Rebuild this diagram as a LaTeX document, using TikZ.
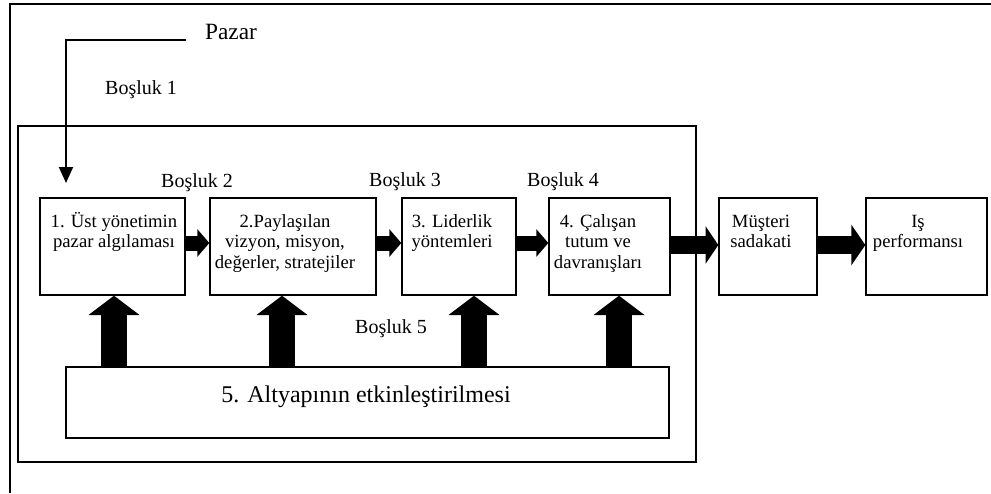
\documentclass[tikz,border=0pt]{standalone}
\usepackage{fontspec}
\setmainfont{Liberation Serif}
\usetikzlibrary{arrows.meta}
\newcommand{\celltext}[1]{\begin{tabular}[t]{@{}c@{}}#1\end{tabular}}
\begin{document}
\begin{tikzpicture}[x=0.75pt,y=-0.75pt,
  stage/.style={draw, line width=1pt, rectangle, inner sep=0pt, minimum height=72.75pt},
  boxtext/.style={inner sep=0pt, anchor=base, font=\fontsize{14}{15.5}\selectfont},
  gaplabel/.style={inner sep=0pt, anchor=base, font=\fontsize{15}{17}\selectfont},
  flow/.style={line width=11.25pt, -{Triangle[width=20.25pt,length=9pt]}},
  bigflow/.style={line width=13.5pt, -{Triangle[width=27.5pt,length=9.5pt]}},
  widehead/.style={line width=13pt, -{Triangle[width=30pt,length=10.5pt]}},
  lift/.style={line width=19pt, -{Triangle[width=37.5pt,length=14.5pt]}},
  feed/.style={line width=1.5pt, -{Triangle[width=10.5pt,length=12pt]}}
]
\useasboundingbox (0,0) rectangle (991,493);

% partial outer frame
\draw[line width=1.8pt] (10,493) -- (10,4) -- (991,4);

% organisation boundary
\node[draw, line width=1pt, inner sep=0pt, minimum width=508.5pt, minimum height=252pt] (org) at (357,294) {};

% stages
\node[stage, minimum width=108.75pt] (b1) at (112.5,246.5) {};
\node[stage, minimum width=124.5pt]  (b2) at (293,246.5) {};
\node[stage, minimum width=85.5pt]   (b3) at (459,246.5) {};
\node[stage, minimum width=90.75pt]  (b4) at (609.5,246.5) {};
\node[stage, minimum width=73.5pt]   (b5) at (768,246.5) {};
\node[stage, minimum width=90.75pt]  (b6) at (926.5,246.5) {};
\node[stage, minimum width=452.25pt, minimum height=53.25pt] (base) at (367.5,402.5) {};

% stage texts
\node[boxtext] (t1) at (114,227) {\celltext{1. Üst yönetimin\\pazar algılaması}};
\node[boxtext] (t2) at (285,227) {\celltext{2.Paylaşılan\\vizyon, misyon,\\değerler, stratejiler}};
\node[boxtext] (t3) at (452,227) {\celltext{3. Liderlik\\yöntemleri}};
\node[boxtext] (t4) at (598,227) {\celltext{4. Çalışan\\tutum ve\\davranışları}};
\node[boxtext] (t5) at (761,227) {\celltext{Müşteri\\sadakati}};
\node[boxtext] (t6) at (918,227) {\celltext{Iş\\performansı}};
\node[inner sep=0pt, anchor=base, font=\fontsize{18}{21}\selectfont] (t7) at (366,402) {5. Altyapının etkinleştirilmesi};

% labels
\node[inner sep=0pt, anchor=base, font=\fontsize{17.5}{20}\selectfont] (pazar) at (231,39.5) {Pazar};
\node[gaplabel] (g1) at (141,94) {Boşluk 1};
\node[gaplabel] (g2) at (197,187) {Boşluk 2};
\node[gaplabel] (g3) at (405,186) {Boşluk 3};
\node[gaplabel] (g4) at (563,186) {Boşluk 4};
\node[gaplabel] (g5) at (391,333) {Boşluk 5};

% market input
\coordinate (pzs) at (186,40);
\coordinate (pze) at (66,183);
\draw[feed] (pzs) -| (pze);

% horizontal flow
\draw[flow] (b1.east |- 0,243) -- (b2.west |- 0,243);
\draw[flow] (b2.east |- 0,243) -- (b3.west |- 0,243);
\draw[flow] (b3.east |- 0,243) -- (b4.west |- 0,243);
\draw[bigflow] (b4.east |- 0,245) -- (b5.west |- 0,245);
\draw[widehead] (b5.east |- 0,245) -- (b6.west |- 0,245);

% infrastructure support
\draw[lift] (base.north -| 114,0) -- (b1.south -| 114,0);
\draw[lift] (base.north -| 282,0) -- (b2.south -| 282,0);
\draw[lift] (base.north -| 474,0) -- (b3.south -| 474,0);
\draw[lift] (base.north -| 619,0) -- (b4.south -| 619,0);
\end{tikzpicture}
\end{document}
